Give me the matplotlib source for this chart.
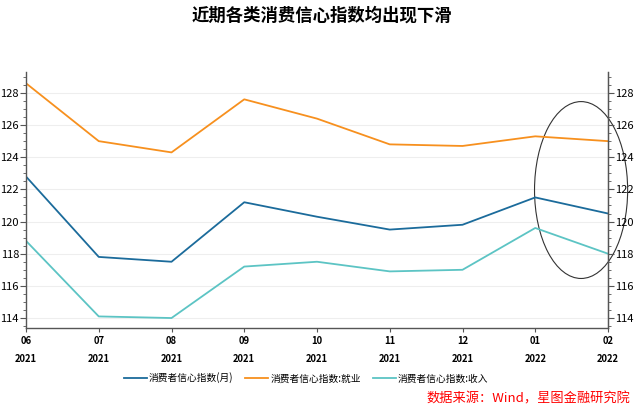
import matplotlib
matplotlib.use("Agg")
import matplotlib.pyplot as plt
from matplotlib.patches import Ellipse
from matplotlib.ticker import MultipleLocator

plt.rcParams['font.family'] = ['Noto Sans CJK SC', 'DejaVu Sans']

months = ["06\n2021", "07\n2021", "08\n2021", "09\n2021", "10\n2021", "11\n2021", "12\n2021", "01\n2022", "02\n2022"]
overall = [122.8, 117.8, 117.5, 121.2, 120.3, 119.5, 119.8, 121.5, 120.5]
employment = [128.6, 125.0, 124.3, 127.6, 126.4, 124.8, 124.7, 125.3, 125.0]
income = [118.8, 114.1, 114.0, 117.2, 117.5, 116.9, 117.0, 119.6, 118.0]
series_names = ["消费者信心指数(月)", "消费者信心指数:就业", "消费者信心指数:收入"]
colors = ["#1b6b9b", "#f7901e", "#5cc4c4"]

fig = plt.figure(figsize=(6.44, 4.09), dpi=100)
ax = fig.add_axes([26/644, 1-328/409, (608-26)/644, (328-72)/409])
x = list(range(len(months)))
for vals, name, c in zip([overall, employment, income], series_names, colors):
    ax.plot(x, vals, color=c, lw=1.3, label=name)

ax.set_xlim(0, 8)
ax.set_ylim(113.38, 129.3)
ax.yaxis.set_major_locator(MultipleLocator(2))
ax.yaxis.set_minor_locator(MultipleLocator(0.5))
ax.set_xticks(x)
ax.set_xticklabels(months, fontsize=6.8, linespacing=2.0)
ax.grid(axis='y', color='#eeeeee', lw=0.8)
ax.set_axisbelow(True)
ax.spines['top'].set_visible(False)
for s in ['left', 'right', 'bottom']:
    ax.spines[s].set_color('#555555')
    ax.spines[s].set_linewidth(1.0)
ax.tick_params(axis='y', which='major', labelsize=8, length=4, color='#555555', pad=1)
ax.tick_params(axis='y', which='minor', length=2.5, color='#555555')
ax.tick_params(axis='x', length=3, color='#555555', pad=3)
for lab in ax.get_xticklabels():
    lab.set_fontweight('bold')

ax2 = ax.twinx()
ax2.set_ylim(ax.get_ylim())
ax2.yaxis.set_major_locator(MultipleLocator(2))
ax2.yaxis.set_minor_locator(MultipleLocator(0.5))
ax2.tick_params(axis='y', which='major', labelsize=8, length=4, color='#555555', pad=1)
ax2.tick_params(axis='y', which='minor', length=2.5, color='#555555')
ax2.spines['top'].set_visible(False)
ax2.spines['right'].set_color('#555555')
ax2.spines['left'].set_visible(False)
ax2.spines['bottom'].set_visible(False)

ell = Ellipse((7.63, 121.96), 1.28, 11.0, fill=False, edgecolor='#333333', lw=0.8, clip_on=False)
ax.add_patch(ell)

fig.text(0.5, 1-16/409, "近期各类消费信心指数均出现下滑", ha='center', va='center', fontsize=12.5, fontweight='bold')
fig.legend(loc='center', bbox_to_anchor=(306/644, 1-378/409), ncol=3, frameon=False, fontsize=7,
           handlelength=2.4, handletextpad=0.2, columnspacing=1.2)
fig.text(630/644, 1-399/409, "数据来源：Wind，星图金融研究院", ha='right', va='center', color='#ff0000',
         fontsize=9.5, style='italic')

fig.savefig("out.png", dpi=100)
